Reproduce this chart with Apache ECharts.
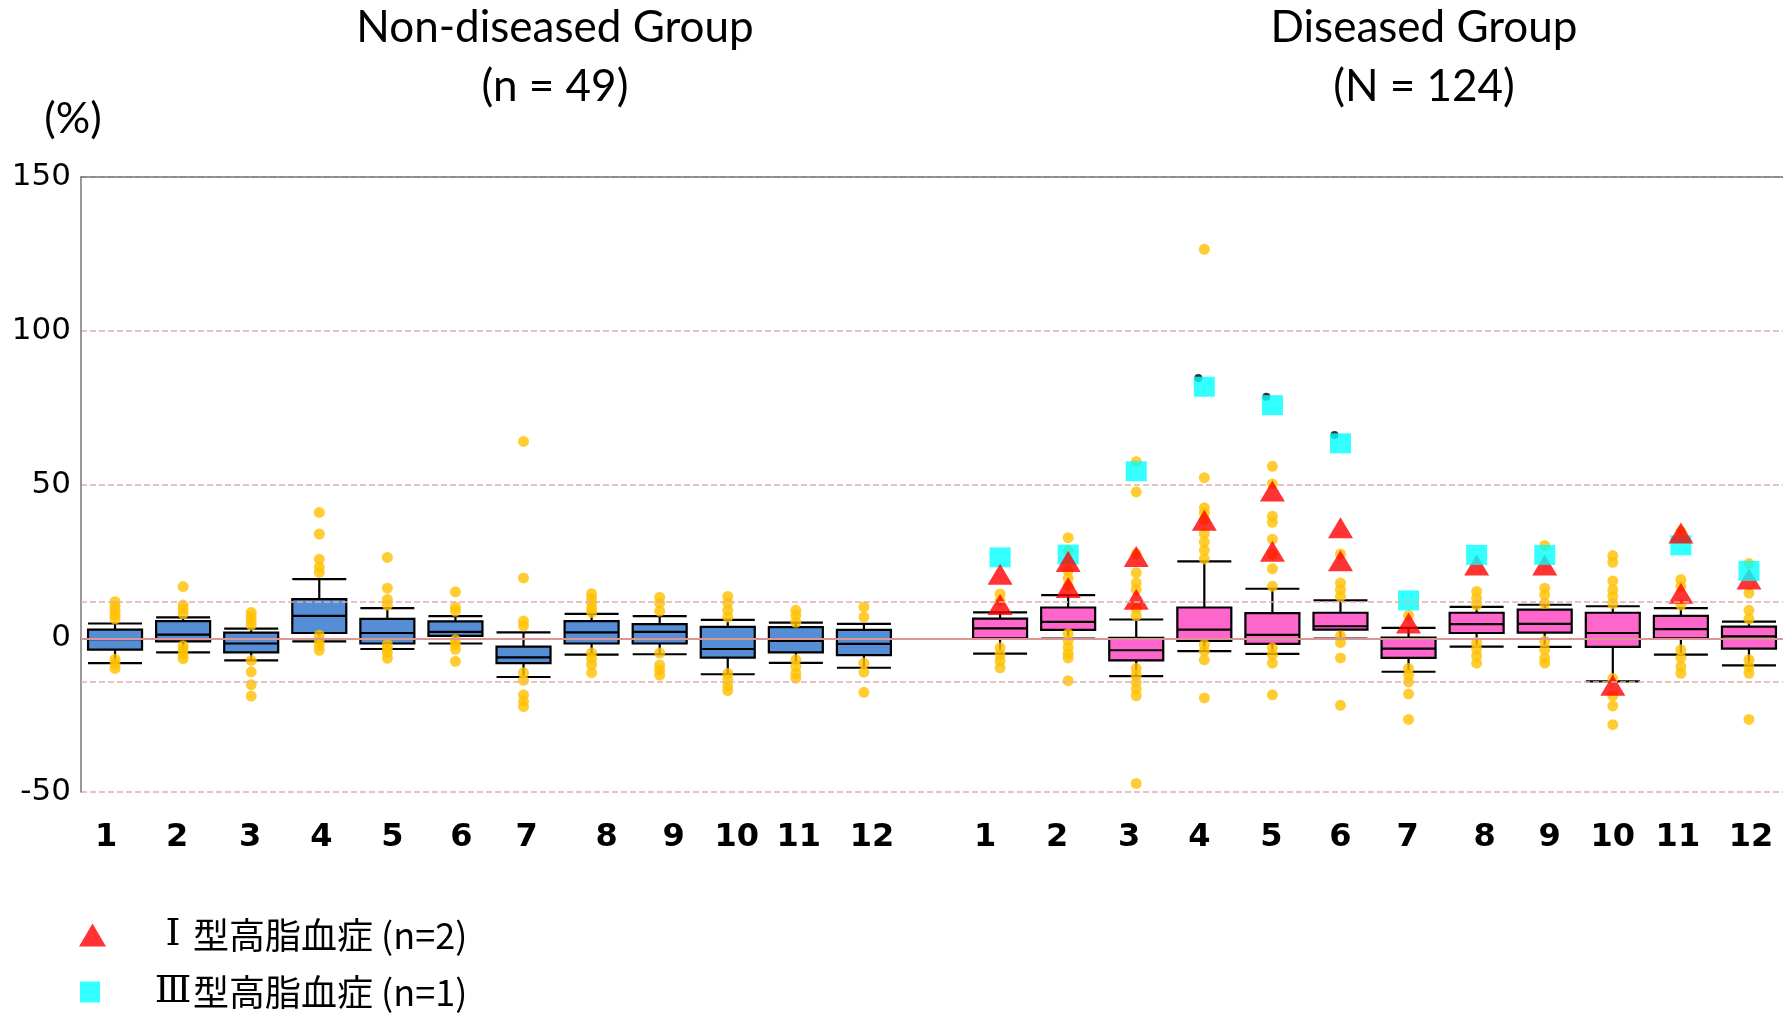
<!DOCTYPE html>
<html>
<head>
<meta charset="utf-8">
<script src="https://cdn.jsdelivr.net/npm/echarts@6/dist/echarts.min.js"></script>
<style>
  html, body { margin: 0; padding: 0; background: #ffffff; }
  #chart { width: 1783px; height: 1015px; }
</style>
</head>
<body>
<div id="chart"></div>
<script>
// Tick labels of each group (months 1..12); an empty slot separates the two groups
const groupTicks = ['1', '2', '3', '4', '5', '6', '7', '8', '9', '10', '11', '12'];
const categories = [...groupTicks, '', ...groupTicks];
const diseasedOffset = groupTicks.length + 1;

// Box statistics [lower whisker, Q1, median, Q3, upper whisker] (%)
const nonDiseasedBoxes = [
  [-8.1, -3.7, -0.3, 2.8, 4.8],
  [-4.6, -1.0, 1.2, 5.6, 6.8],
  [-7.2, -4.6, -1.7, 1.8, 3.1],
  [-1.0, 1.7, 7.3, 12.7, 19.2],
  [-3.5, -1.7, 1.7, 6.3, 9.8],
  [-1.7, 0.8, 2.1, 5.5, 7.2],
  [-12.6, -8.1, -6.2, -2.7, 1.9],
  [-5.3, -1.7, 1.9, 5.6, 7.9],
  [-5.2, -1.7, 2.1, 4.6, 7.2],
  [-11.7, -6.3, -3.5, 3.7, 6.0],
  [-8.0, -4.6, -0.9, 3.6, 5.1],
  [-9.6, -5.5, -1.8, 2.7, 4.7]
];
const diseasedBoxes = [
  [-5.0, 0.0, 3.2, 6.4, 8.4],
  [-0.1, 2.7, 5.3, 10.0, 14.0],
  [-12.3, -7.2, -3.9, 0.1, 6.1],
  [-4.2, -0.9, 2.8, 10.0, 25.0],
  [-5.1, -1.8, 1.1, 8.2, 16.1],
  [-0.1, 2.8, 3.9, 8.3, 12.3],
  [-10.9, -6.4, -3.4, 0.2, 3.4],
  [-2.7, 1.7, 4.6, 8.3, 10.2],
  [-2.8, 1.8, 4.7, 9.3, 10.9],
  [-14.0, -2.8, 1.7, 8.3, 10.4],
  [-5.3, 0.0, 3.0, 7.3, 9.8],
  [-8.8, -3.4, 0.6, 3.8, 5.4]
];

// Individual values outside the whiskers (%)
const nonDiseasedOutliers = [
  [11.9, 10.4, 9.0, 7.6, 6.3, -6.8, -8.4, -9.8],
  [16.8, 10.8, 9.4, 8.0, -2.4, -3.8, -5.4, -6.6],
  [8.4, 7.0, 5.6, 4.3, -7.2, -10.9, -15.1, -18.8],
  [40.9, 33.9, 25.7, 23.1, 21.4, 1.0, -0.6, -2.2, -3.9],
  [26.3, 16.3, 12.6, 10.8, -2.0, -3.4, -4.6, -6.5],
  [15.1, 10.2, 8.8, -0.5, -2.0, -3.6, -7.5],
  [64.0, 19.6, 5.6, 4.0, -11.2, -13.7, -18.4, -20.5, -22.2],
  [14.5, 13.0, 11.4, 9.8, 8.4, -4.8, -6.6, -8.6, -11.2],
  [13.3, 11.4, 8.8, -4.8, -8.7, -10.4, -12.0],
  [13.6, 11.4, 9.1, 6.9, -11.5, -13.5, -15.5, -17.0],
  [9.1, 7.5, 5.2, -7.0, -9.2, -11.4, -13.0],
  [10.2, 6.9, -8.1, -11.0, -17.6]
];
const diseasedOutliers = [
  [14.4, 12.2, -3.1, -5.3, -7.4, -9.6],
  [32.7, 28.5, 22.0, 19.5, 17.0, 1.5, -0.8, -3.0, -5.0, -6.4, -13.8],
  [57.4, 47.6, 27.4, 21.3, 18.0, 15.8, 9.7, 7.4, -9.8, -12.0, -14.3, -16.5, -18.7, -47.2],
  [126.5, 52.2, 42.4, 40.8, 38.6, 34.1, 31.3, 28.6, 25.8, -2.0, -4.2, -7.0, -19.4],
  [55.9, 50.2, 39.7, 37.7, 32.2, 27.4, 22.6, 16.9, -3.1, -5.3, -8.1, -18.4],
  [27.4, 18.0, 15.8, 13.6, 0.8, -1.4, -6.4, -21.8],
  [7.4, -9.8, -12.0, -14.2, -18.1, -26.4],
  [15.2, 13.0, 10.8, -1.4, -3.5, -5.8, -8.1],
  [30.2, 16.3, 14.1, 11.3, -0.9, -3.7, -6.4, -8.1],
  [26.9, 24.7, 18.6, 15.8, 13.6, 11.3, -13.1, -18.7, -22.0, -28.1],
  [34.7, 19.1, 16.9, 10.8, -3.7, -6.4, -9.2, -11.4],
  [24.3, 14.7, 9.1, 6.3, -7.0, -9.2, -11.4, -26.4]
];

// Type I hyperlipidemia cases (n=2), diseased group; null = not shown
const typeICaseA = [20.8, 25.0, 26.6, 38.4, 47.9, 35.9, 5.0, null, null, -15.3, 34.2, null];
const typeICaseB = [11.0, 16.5, 12.7, null, 28.3, 25.2, null, 23.8, 23.8, null, 14.6, 19.3];
// Type III hyperlipidemia case (n=1), diseased group
const typeIIICase = [26.3, 27.2, 54.3, 81.8, 75.8, 63.4, 12.3, 27.1, 27.1, null, 30.2, 21.9];
// Extreme values sitting just behind the type III markers
const extremeValues = [null, null, null, 84.6, 78.5, 66.1, null, null, null, null, null, null];

// Reference lines (%)
const zeroLine = 0;
const referenceBand = [12, -14];

const yTicks = { min: -50, max: 150, interval: 50 };

const TYPE1 = 'Ⅰ型高脂血症 (n=2)';
const TYPE3 = 'Ⅲ型高脂血症 (n=1)';

// ---- styling ----
const BLUE = '#558ED5';
const PINK = '#FF66CC';
const GOLD = '#FFC000';

// Horizontal nudge (px) of each hand-placed category label, in axis order
const labelNudge = [-9, -6, -1, 2, 5, 6, 3, 15, 14, 9, 3, 8, 0,
                    -15, -11, -7, -5, -1, 0, -1, 8, 5, 0, -3, 2];

// ---- build series data ----
const axisCategories = categories.map((c, i) => {
  const d = labelNudge[i] * 2;
  return { value: c, textStyle: { padding: [0, d < 0 ? -d : 0, 0, d > 0 ? d : 0] } };
});

const boxData = [];
nonDiseasedBoxes.forEach(b => boxData.push({ value: b, itemStyle: { color: BLUE } }));
boxData.push({ value: [0, 0, 0, 0, 0], itemStyle: { opacity: 0, borderWidth: 0 } });
diseasedBoxes.forEach(b => boxData.push({ value: b, itemStyle: { color: PINK } }));

const outlierPts = [];
nonDiseasedOutliers.forEach((arr, i) => arr.forEach(v => outlierPts.push([i, v])));
diseasedOutliers.forEach((arr, i) => arr.forEach(v => outlierPts.push([diseasedOffset + i, v])));

const toPoints = arr => arr.map((v, i) => v == null ? null : [diseasedOffset + i, v]).filter(Boolean);

// Legend label: the roman numeral sits in its own full-width cell
const legendFormatter = name => `{rn|${name.charAt(0)}}{t|${name.slice(1)}}`;
const legendText = padLeft => ({
  color: '#000000',
  padding: [0, 0, 0, padLeft],
  rich: {
    rn: { fontFamily: 'DejaVu Serif', fontSize: 38, width: 40, align: 'center', color: '#000000' },
    t: { fontFamily: 'Noto Sans CJK JP', fontSize: 36, color: '#000000' }
  }
});

const chart = echarts.init(document.getElementById('chart'));

const titleFont = 'Lato';
const titleText = (x, y, text, size) => ({
  type: 'text', x, y,
  style: { text, fontFamily: titleFont, fontSize: size, fill: '#000000', align: 'center', verticalAlign: 'middle' }
});

chart.setOption({
  animation: false,
  backgroundColor: '#ffffff',
  grid: { left: 81, right: 0, top: 177, bottom: 223, outerBoundsMode: 'none' },
  xAxis: [
    {
      type: 'category',
      data: axisCategories,
      boundaryGap: true,
      axisLine: { show: true, lineStyle: { color: '#767676', width: 1.5 } },
      axisTick: { show: false },
      axisLabel: {
        interval: 0, margin: 30, color: '#000000',
        fontFamily: 'DejaVu Sans', fontSize: 32, fontWeight: 'bold'
      },
      splitLine: { show: false }
    },
    {
      type: 'category',
      position: 'top',
      data: categories,
      axisLine: { show: true, lineStyle: { color: '#767676', width: 1.5 } },
      axisTick: { show: false },
      axisLabel: { show: false },
      splitLine: { show: false }
    }
  ],
  yAxis: {
    type: 'value',
    min: yTicks.min, max: yTicks.max, interval: yTicks.interval,
    axisLine: { show: true, lineStyle: { color: '#767676', width: 1.5 } },
    axisTick: { show: false },
    axisLabel: { margin: 10, color: '#000000', fontFamily: 'DejaVu Sans', fontSize: 31 },
    splitLine: { show: true, lineStyle: { color: '#E2AFAE', width: 1.5, type: [6, 3] } }
  },
  legend: [
    {
      data: [{ name: TYPE1, icon: 'triangle' }],
      left: 74, top: 911, orient: 'vertical',
      itemWidth: 27, itemHeight: 23,
      selectedMode: false,
      formatter: legendFormatter,
      textStyle: legendText(42)
    },
    {
      data: [{ name: TYPE3, icon: 'rect' }],
      left: 75, top: 968, orient: 'vertical',
      itemWidth: 20, itemHeight: 21,
      selectedMode: false,
      formatter: legendFormatter,
      textStyle: legendText(48)
    }
  ],
  graphic: [
    titleText(555, 28, 'Non-diseased Group', 44),
    titleText(555, 87, '(n = 49)', 44),
    titleText(1424, 28, 'Diseased Group', 44),
    titleText(1424, 87, '(N = 124)', 44),
    titleText(73, 119, '(%)', 43)
  ],
  series: [
    {
      name: 'reference',
      type: 'line',
      data: [],
      silent: true,
      markLine: {
        silent: true,
        symbol: 'none',
        label: { show: false },
        data: [
          { yAxis: zeroLine, lineStyle: { color: '#D99694', width: 2, type: 'solid' } },
          ...referenceBand.map(v => ({ yAxis: v, lineStyle: { color: '#E2AFAE', width: 1.5, type: [6, 3] } }))
        ]
      }
    },
    {
      name: 'box',
      type: 'boxplot',
      boxWidth: [54, 54],
      data: boxData,
      itemStyle: { borderColor: '#000000', borderWidth: 2.2 },
      emphasis: { disabled: true },
      silent: true
    },
    {
      name: 'outliers',
      type: 'scatter',
      symbol: 'circle',
      symbolSize: 11,
      data: outlierPts,
      itemStyle: { color: GOLD },
      silent: true
    },
    {
      name: 'extreme',
      type: 'scatter',
      symbol: 'circle',
      symbolSize: 8,
      symbolOffset: [-6, 0],
      data: toPoints(extremeValues),
      itemStyle: { color: '#000000' },
      silent: true
    },
    {
      name: TYPE1,
      type: 'scatter',
      symbol: 'triangle',
      symbolSize: [25, 21],
      data: toPoints(typeICaseB),
      itemStyle: { color: '#FF0000' },
      silent: true
    },
    {
      name: TYPE3,
      type: 'scatter',
      symbol: 'rect',
      symbolSize: [21, 20],
      data: toPoints(typeIIICase),
      itemStyle: { color: '#00FFFF' },
      silent: true
    },
    {
      name: TYPE1,
      type: 'scatter',
      symbol: 'triangle',
      symbolSize: [25, 21],
      data: toPoints(typeICaseA),
      itemStyle: { color: '#FF0000' },
      silent: true
    }
  ]
});
</script>
</body>
</html>
